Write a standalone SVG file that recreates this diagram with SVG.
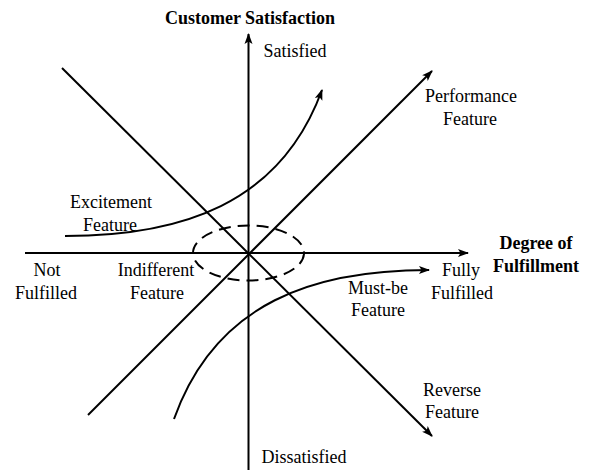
<svg xmlns="http://www.w3.org/2000/svg" width="590" height="470" viewBox="0 0 590 470" font-family="'Liberation Serif', 'Times New Roman', 'DejaVu Serif', serif">
  <style>
    .ln { fill: none; stroke: #000; stroke-width: 2; }
    text { font-family: 'Liberation Serif', 'Times New Roman', 'DejaVu Serif', serif; font-size: 18px; fill: #000; text-anchor: middle; }
    .b { font-weight: bold; }
  </style>
  <defs>
    <marker id="arr" markerUnits="userSpaceOnUse" markerWidth="12" markerHeight="10" refX="10" refY="4" orient="auto" overflow="visible">
      <path d="M0,0 L11,4 L0,8 L2.5,4 z" fill="#000"/>
    </marker>
  </defs>
  <rect width="590" height="470" fill="#fff"/>
  <g id="connectors">
    <line id="y-axis" class="ln" x1="248.5" y1="470" x2="248.5" y2="34" marker-end="url(#arr)"/>
    <line id="x-axis" class="ln" x1="25" y1="253" x2="468" y2="253" marker-end="url(#arr)"/>
    <line id="performance-line" class="ln" x1="88" y1="415" x2="432" y2="71" marker-end="url(#arr)"/>
    <line id="reverse-line" class="ln" x1="62" y1="68" x2="432" y2="436" marker-end="url(#arr)"/>
    <path id="excitement-curve" class="ln" d="M65,236 C180,236 280,205 322,90" marker-end="url(#arr)"/>
    <path id="mustbe-curve" class="ln" d="M174,419 C216,301 316,270 429,270" marker-end="url(#arr)"/>
  </g>
  <g id="indifferent-ellipse">
    <ellipse class="ln" cx="248.5" cy="253" rx="55.5" ry="27.5" stroke-dasharray="12 7"/>
  </g>
  <g id="label-customer-satisfaction">
    <text class="b" x="250" y="24">Customer Satisfaction</text>
  </g>
  <g id="label-satisfied">
    <text x="295" y="57">Satisfied</text>
  </g>
  <g id="label-dissatisfied">
    <text x="304" y="463">Dissatisfied</text>
  </g>
  <g id="label-degree">
    <text class="b" x="536" y="249">Degree of</text>
    <text class="b" x="536" y="272">Fulfillment</text>
  </g>
  <g id="label-performance">
    <text x="471" y="102">Performance</text>
    <text x="470" y="125">Feature</text>
  </g>
  <g id="label-excitement">
    <text x="111" y="208">Excitement</text>
    <text x="110" y="231">Feature</text>
  </g>
  <g id="label-not-fulfilled">
    <text x="47" y="276">Not</text>
    <text x="46" y="299">Fulfilled</text>
  </g>
  <g id="label-indifferent">
    <text x="156" y="276">Indifferent</text>
    <text x="157" y="299">Feature</text>
  </g>
  <g id="label-mustbe">
    <text x="378" y="294">Must-be</text>
    <text x="378" y="316">Feature</text>
  </g>
  <g id="label-fully-fulfilled">
    <text x="461" y="276">Fully</text>
    <text x="462" y="299">Fulfilled</text>
  </g>
  <g id="label-reverse">
    <text x="452" y="396">Reverse</text>
    <text x="452" y="418">Feature</text>
  </g>
</svg>
